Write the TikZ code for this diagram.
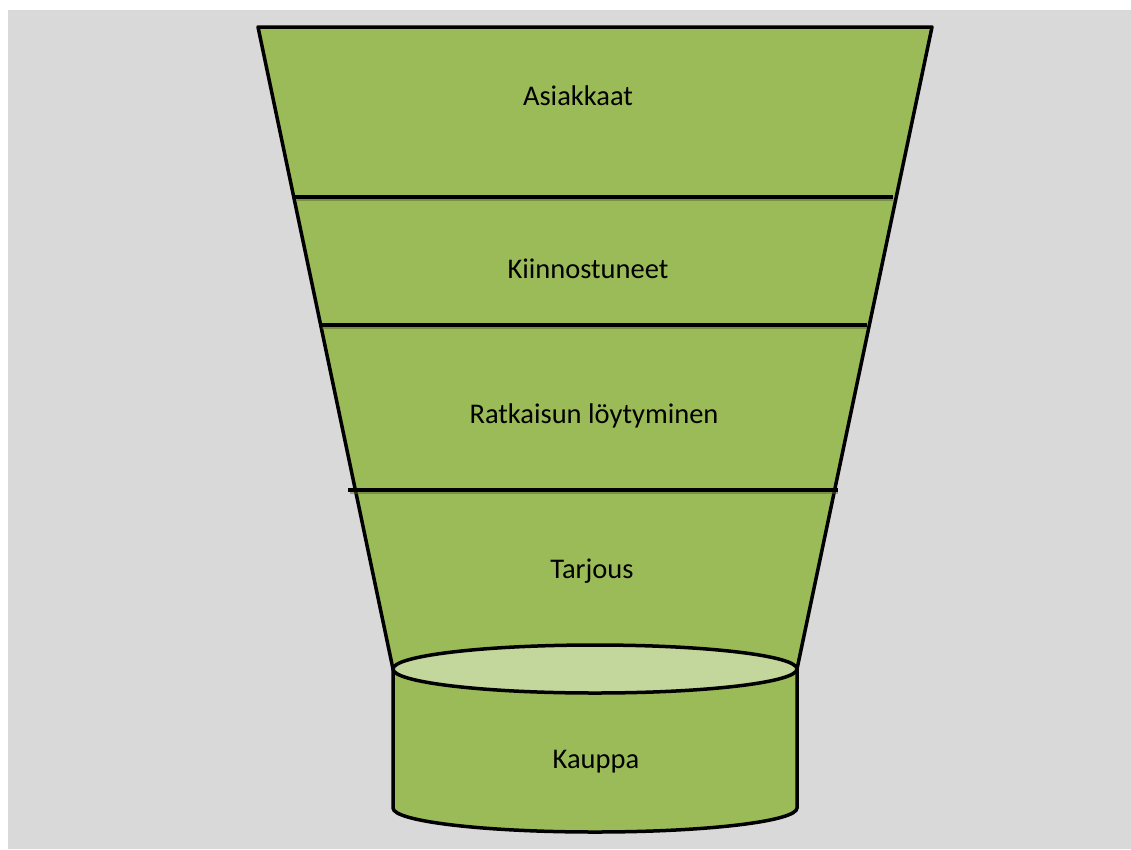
\documentclass[tikz,border=0pt]{standalone}
\usepackage{fontspec}
\setmainfont{Carlito}
\definecolor{funnelgreen}{HTML}{9BBB59}
\definecolor{lidgreen}{HTML}{C3D69B}
\definecolor{backgray}{HTML}{D9D9D9}
\tikzset{
  stage/.style={anchor=base,font=\fontsize{28.5}{32}\selectfont},
  shadowline/.style={funnelgreen!55!black,opacity=0.5,line width=2pt}
}
\begin{document}
\begin{tikzpicture}[x=1pt,y=-1pt,line width=3.5pt]
\useasboundingbox (0,0) rectangle (1131,849);
\fill[backgray] (8,10) rectangle (1131,849);
% funnel body
\filldraw[fill=funnelgreen,line join=round] (258,27) -- (932,27) -- (797,669) -- (393,669) -- cycle;
% dividing lines
\foreach \y/\xa/\xb in {197/295/893, 325/320/867, 490/348/838}
{
  \draw[shadowline] (\xa+2,\y+3) -- (\xb,\y+3);
  \draw (\xa,\y) -- (\xb,\y);
}
% cylinder
\filldraw[fill=funnelgreen] (393,669) -- (393,808) arc[start angle=180,end angle=0,x radius=202,y radius=24] -- (797,669);
\filldraw[fill=lidgreen] (595,669) ellipse[x radius=202,y radius=24];
% labels
\node[stage] (asiakkaat) at (578,105) {Asiakkaat};
\node[stage] (kiinnostuneet) at (588,278) {Kiinnostuneet};
\node[stage] (ratkaisu) at (594,423) {Ratkaisun löytyminen};
\node[stage] (tarjous) at (592,578) {Tarjous};
\node[stage] (kauppa) at (596,768) {Kauppa};
\end{tikzpicture}
\end{document}
